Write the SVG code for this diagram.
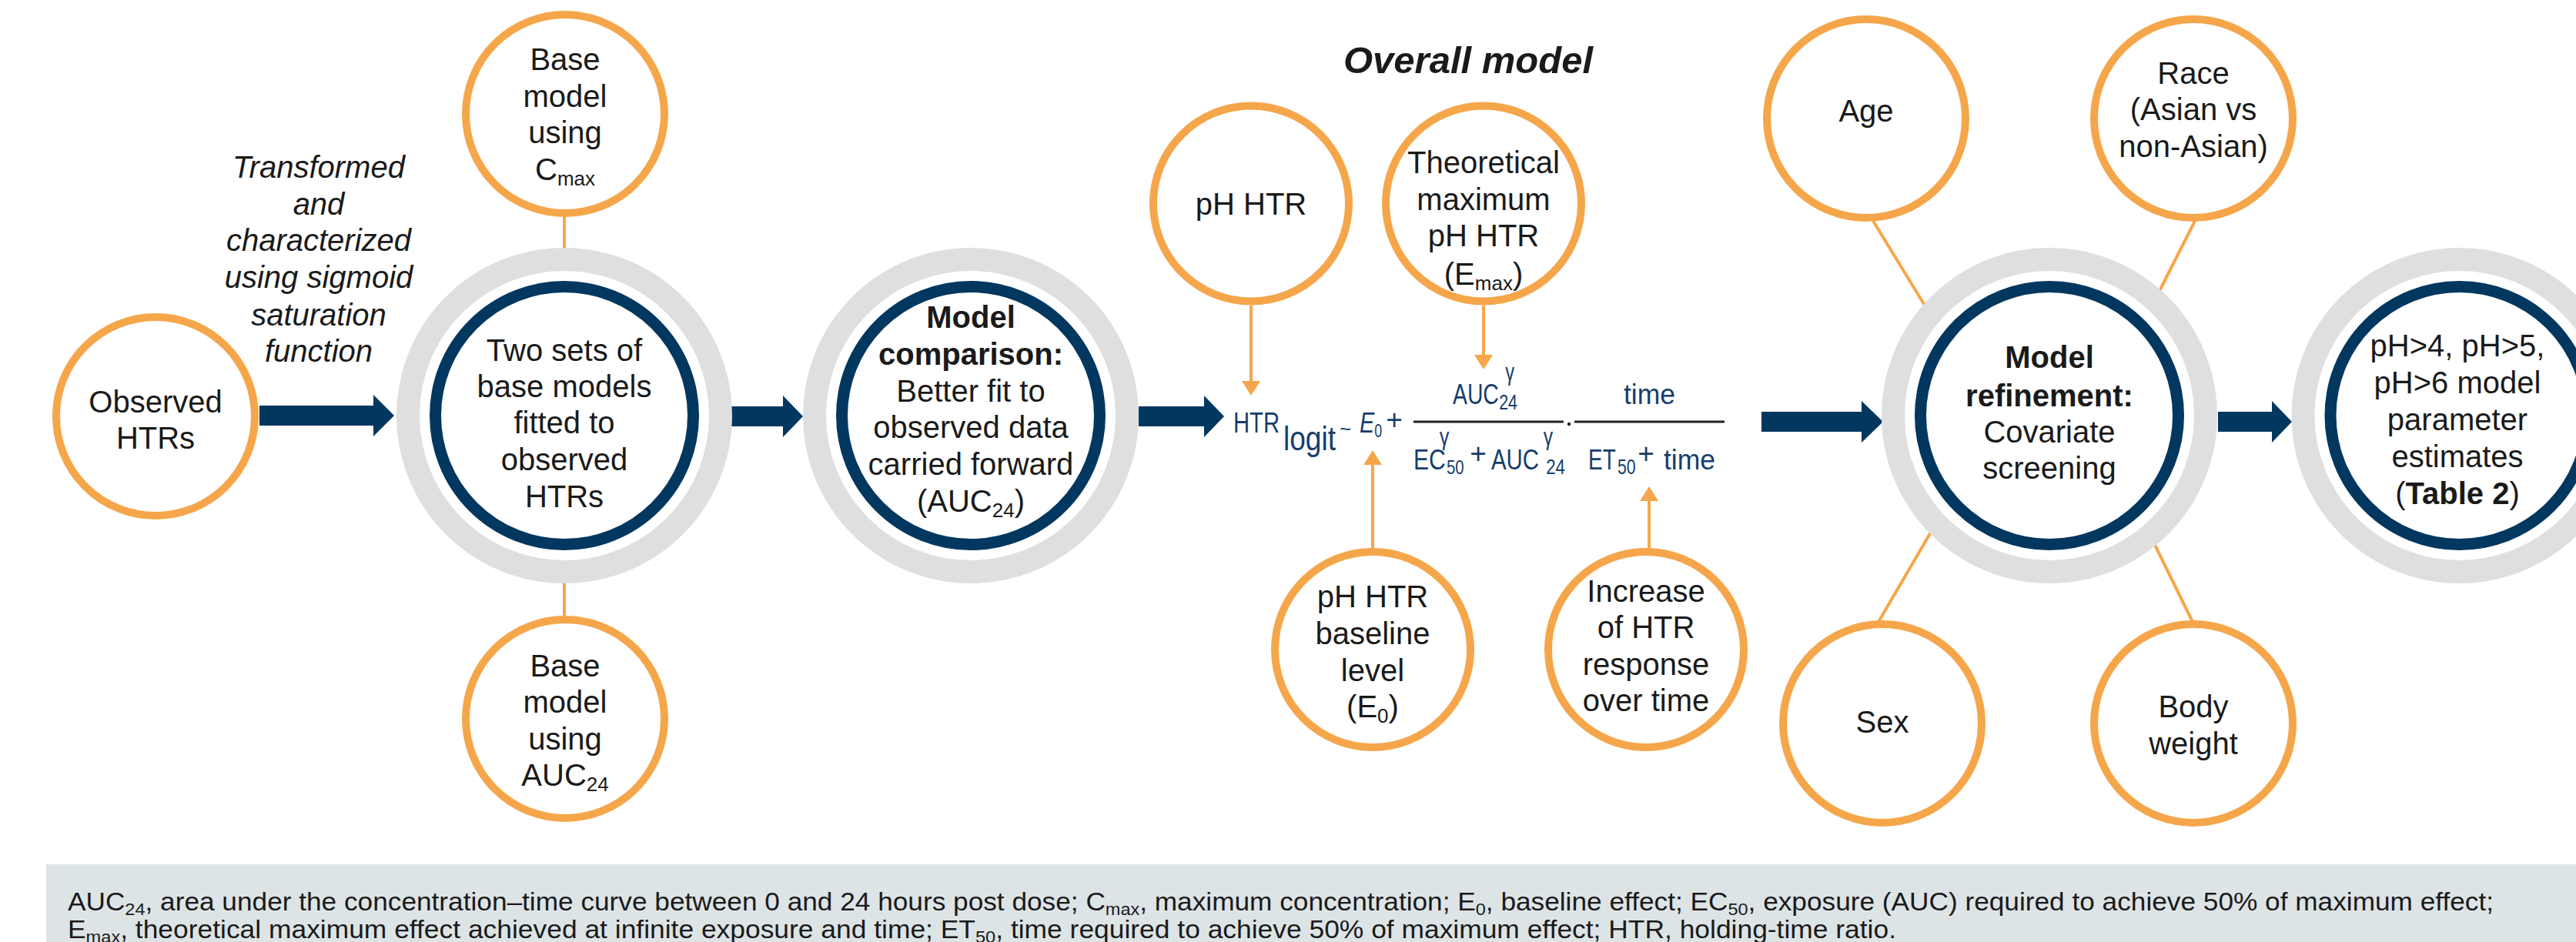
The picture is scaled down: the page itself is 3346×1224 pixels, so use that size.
<svg xmlns="http://www.w3.org/2000/svg" width="3346" height="1224" viewBox="0 0 3346 1224">
<defs>
<style>
.orange{fill:#fff;stroke:#f5a64a;stroke-width:10}
.gray{fill:#fff;stroke:#dfdfdf;stroke-width:30}
.navy{fill:#fff;stroke:#02375f;stroke-width:15}
.t{font-family:"Liberation Sans",Arial,sans-serif;font-size:40px;fill:#1a1a1a;text-anchor:middle}
.it{font-style:italic}
.b{font-weight:bold}
.conn{stroke:#f5a64a;stroke-width:4;fill:none}
.big{fill:#02375f}
.eq{font-family:"Liberation Sans",Arial,sans-serif;font-size:37px;fill:#163e6b}
.frac{stroke:#222;stroke-width:3}
.foot{font-family:"Liberation Sans",Arial,sans-serif;font-size:33px;fill:#1a1a1a}
</style>
<marker id="oh" viewBox="0 0 19 24" markerWidth="19" markerHeight="24" refX="0" refY="12" orient="auto" markerUnits="userSpaceOnUse">
<path d="M0,0 L19,12 L0,24 z" fill="#f5a64a"/>
</marker>
</defs>
<rect width="3346" height="1224" fill="#fff"/>

<g id="connectors">
<line class="conn" x1="733" y1="282" x2="733" y2="325"/>
<line class="conn" x1="733" y1="752" x2="733" y2="800"/>
<line class="conn" x1="1625" y1="397" x2="1625" y2="495" marker-end="url(#oh)"/>
<line class="conn" x1="1927" y1="397" x2="1927" y2="461" marker-end="url(#oh)"/>
<line class="conn" x1="1783" y1="712" x2="1783" y2="604" marker-end="url(#oh)"/>
<line class="conn" x1="2142" y1="712" x2="2142" y2="651" marker-end="url(#oh)"/>
<line class="conn" x1="2433" y1="287" x2="2502" y2="400"/>
<line class="conn" x1="2851" y1="287" x2="2804" y2="380"/>
<line class="conn" x1="2440" y1="808" x2="2510" y2="688"/>
<line class="conn" x1="2848" y1="808" x2="2798" y2="706"/>
<polygon class="big" points="337,527 485,527 485,513 512,540 485,567 485,553 337,553"/>
<polygon class="big" points="947,528 1017,528 1017,514 1043,541 1017,568 1017,554 947,554"/>
<polygon class="big" points="1479,528 1564,528 1564,514 1590,541 1564,568 1564,554 1479,554"/>
<polygon class="big" points="2288,535 2418,535 2418,521 2446,548 2418,575 2418,561 2288,561"/>
<polygon class="big" points="2881,535 2951,535 2951,521 2977,548 2951,575 2951,561 2881,561"/>
</g>

<g id="observed-htrs">
<circle class="orange" cx="202" cy="541" r="129"/>
<text class="t" x="202" y="536">Observed</text>
<text class="t" x="202" y="583">HTRs</text>
</g>

<g id="transform-label">
<text class="t it" x="414" y="231">Transformed</text>
<text class="t it" x="414" y="279">and</text>
<text class="t it" x="414" y="326">characterized</text>
<text class="t it" x="414" y="374">using sigmoid</text>
<text class="t it" x="414" y="423">saturation</text>
<text class="t it" x="414" y="470">function</text>
</g>

<g id="base-cmax">
<circle class="orange" cx="734" cy="148" r="129"/>
<text class="t" x="734" y="91">Base</text>
<text class="t" x="734" y="139">model</text>
<text class="t" x="734" y="186">using</text>
<text class="t" x="734" y="234">C<tspan font-size="26" dy="7">max</tspan></text>
</g>

<g id="two-sets">
<circle class="gray" cx="733" cy="540" r="203"/>
<circle class="navy" cx="733" cy="540" r="167.5"/>
<text class="t" x="733" y="469">Two sets of</text>
<text class="t" x="733" y="516">base models</text>
<text class="t" x="733" y="563">fitted to</text>
<text class="t" x="733" y="611">observed</text>
<text class="t" x="733" y="659">HTRs</text>
</g>

<g id="base-auc">
<circle class="orange" cx="734" cy="934" r="129"/>
<text class="t" x="734" y="879">Base</text>
<text class="t" x="734" y="926">model</text>
<text class="t" x="734" y="974">using</text>
<text class="t" x="734" y="1021">AUC<tspan font-size="26" dy="7">24</tspan></text>
</g>

<g id="model-comparison">
<circle class="gray" cx="1261" cy="540" r="203"/>
<circle class="navy" cx="1261" cy="540" r="167.5"/>
<text class="t b" x="1261" y="426">Model</text>
<text class="t b" x="1261" y="474">comparison:</text>
<text class="t" x="1261" y="522">Better fit to</text>
<text class="t" x="1261" y="569">observed data</text>
<text class="t" x="1261" y="617">carried forward</text>
<text class="t" x="1261" y="665">(AUC<tspan font-size="26" dy="7">24</tspan><tspan dy="-7">)</tspan></text>
</g>

<g id="overall-model-title">
<text class="t it b" x="1907" y="95" style="font-size:49px">Overall model</text>
</g>

<g id="ph-htr">
<circle class="orange" cx="1625" cy="264.5" r="127"/>
<text class="t" x="1625" y="279">pH HTR</text>
</g>

<g id="theoretical-max">
<circle class="orange" cx="1927" cy="264.5" r="127"/>
<text class="t" x="1927" y="225">Theoretical</text>
<text class="t" x="1927" y="273">maximum</text>
<text class="t" x="1927" y="320">pH HTR</text>
<text class="t" x="1927" y="370">(E<tspan font-size="26" dy="7">max</tspan><tspan dy="-7">)</tspan></text>
</g>

<g id="equation">
<text class="eq" transform="translate(1602,562) scale(0.79,1)">HTR</text>
<text class="eq" transform="translate(1667,585) scale(0.843,1)" style="font-size:44px">logit</text>
<text class="eq" x="1740" y="566" style="font-size:26px">~</text>
<text class="eq" transform="translate(1766,562) scale(0.78,1)"><tspan font-style="italic">E</tspan><tspan font-size="23" dy="6">0</tspan></text>
<text class="eq" x="1811" y="558" text-anchor="middle">+</text>
<line class="frac" x1="1836" y1="548" x2="2031" y2="548"/>
<circle cx="2038" cy="551" r="2.2" fill="#222"/>
<line class="frac" x1="2045" y1="548" x2="2240" y2="548"/>
<text class="eq" transform="translate(1887,525) scale(0.766,1)">AUC<tspan font-size="31" dx="11" dy="-31">γ</tspan><tspan font-size="28" dx="-26" dy="38">24</tspan></text>
<text class="eq" transform="translate(2109,525) scale(0.96,1)">time</text>
<text class="eq" transform="translate(1836,610) scale(0.813,1)">EC<tspan font-size="31" dx="-10" dy="-32">γ</tspan><tspan font-size="25" dx="-4" dy="38">50</tspan></text>
<text class="eq" x="1920" y="602" text-anchor="middle">+</text>
<text class="eq" transform="translate(1937,610) scale(0.795,1)">AUC<tspan font-size="31" dx="7" dy="-32">γ</tspan><tspan font-size="28" dx="-11" dy="38">24</tspan></text>
<text class="eq" transform="translate(2063,610) scale(0.757,1)">ET<tspan font-size="28" dx="3" dy="6">50</tspan></text>
<text class="eq" x="2138" y="602" text-anchor="middle">+</text>
<text class="eq" transform="translate(2161,610) scale(0.96,1)">time</text>
</g>

<g id="ph-htr-baseline">
<circle class="orange" cx="1783" cy="844" r="127"/>
<text class="t" x="1783" y="789">pH HTR</text>
<text class="t" x="1783" y="837">baseline</text>
<text class="t" x="1783" y="885">level</text>
<text class="t" x="1783" y="932">(E<tspan font-size="26" dy="7">0</tspan><tspan dy="-7">)</tspan></text>
</g>

<g id="increase-htr">
<circle class="orange" cx="2138" cy="844" r="127"/>
<text class="t" x="2138" y="782">Increase</text>
<text class="t" x="2138" y="829">of HTR</text>
<text class="t" x="2138" y="877">response</text>
<text class="t" x="2138" y="924">over time</text>
</g>

<g id="age">
<circle class="orange" cx="2424" cy="154" r="129"/>
<text class="t" x="2424" y="158">Age</text>
</g>

<g id="race">
<circle class="orange" cx="2849" cy="154" r="129"/>
<text class="t" x="2849" y="109">Race</text>
<text class="t" x="2849" y="156">(Asian vs</text>
<text class="t" x="2849" y="204">non-Asian)</text>
</g>

<g id="model-refinement">
<circle class="gray" cx="2662" cy="540" r="203"/>
<circle class="navy" cx="2662" cy="540" r="167.5"/>
<text class="t b" x="2662" y="478">Model</text>
<text class="t b" x="2662" y="528">refinement:</text>
<text class="t" x="2662" y="575">Covariate</text>
<text class="t" x="2662" y="622">screening</text>
</g>

<g id="sex">
<circle class="orange" cx="2445" cy="940" r="129"/>
<text class="t" x="2445" y="952">Sex</text>
</g>

<g id="body-weight">
<circle class="orange" cx="2849" cy="940" r="129"/>
<text class="t" x="2849" y="932">Body</text>
<text class="t" x="2849" y="980">weight</text>
</g>

<g id="parameter-estimates">
<circle class="gray" cx="3194.5" cy="540" r="203"/>
<circle class="navy" cx="3194.5" cy="540" r="167.5"/>
<text class="t" x="3192" y="463">pH&gt;4, pH&gt;5,</text>
<text class="t" x="3192" y="511">pH&gt;6 model</text>
<text class="t" x="3192" y="559">parameter</text>
<text class="t" x="3192" y="607">estimates</text>
<text class="t" x="3192" y="655">(<tspan class="b">Table 2</tspan>)</text>
</g>

<g id="footnote">
<rect x="60" y="1123" width="3286" height="101" fill="#dde4e6"/>
<text class="foot" x="88" y="1183" textLength="3151" lengthAdjust="spacingAndGlyphs">AUC<tspan font-size="22" dy="6">24</tspan><tspan dy="-6">, area under the concentration–time curve between 0 and 24 hours post dose; C</tspan><tspan font-size="22" dy="6">max</tspan><tspan dy="-6">, maximum concentration; E</tspan><tspan font-size="22" dy="6">0</tspan><tspan dy="-6">, baseline effect; EC</tspan><tspan font-size="22" dy="6">50</tspan><tspan dy="-6">, exposure (AUC) required to achieve 50% of maximum effect;</tspan></text>
<text class="foot" x="88" y="1219" textLength="2375" lengthAdjust="spacingAndGlyphs">E<tspan font-size="22" dy="6">max</tspan><tspan dy="-6">, theoretical maximum effect achieved at infinite exposure and time; ET</tspan><tspan font-size="22" dy="6">50</tspan><tspan dy="-6">, time required to achieve 50% of maximum effect; HTR, holding-time ratio.</tspan></text>
</g>
</svg>
